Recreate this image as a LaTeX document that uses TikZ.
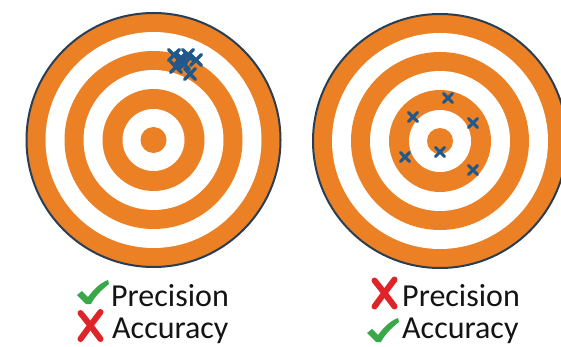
\documentclass[tikz,border=0pt]{standalone}
\usepackage{fontspec}
\setmainfont{Carlito}
\definecolor{tgtorange}{RGB}{235,128,36}
\definecolor{rimblue}{RGB}{40,62,85}
\definecolor{hitblue}{RGB}{32,88,140}
\definecolor{okgreen}{RGB}{58,168,72}
\definecolor{nored}{RGB}{222,36,40}
\tikzset{
  hit/.style={hitblue, line width=3pt, line cap=round},
  bighit/.style={hitblue, line width=3.5pt, line cap=round},
  lbl/.style={anchor=base west, inner sep=0pt, font=\fontsize{32}{32}\selectfont, text=black!92},
  pics/target/.style={code={
    \fill[tgtorange, draw=rimblue, line width=2pt] (0,0) circle (127pt);
    \fill[white] (0,0) circle (108pt);
    \fill[tgtorange] (0,0) circle (89pt);
    \fill[white] (0,0) circle (70pt);
    \fill[tgtorange] (0,0) circle (51pt);
    \fill[white] (0,0) circle (31pt);
    \fill[tgtorange] (0,0) circle (13pt);
  }},
  pics/okmark/.style={code={
    \fill[okgreen] (-11,-8) -- (-6,-12) -- (0,-6)
      .. controls (6,-14) and (12,-20) .. (20,-23) -- (21,-19)
      .. controls (12,-12) and (6,-5) .. (3,1) -- (-2,1) -- cycle;
  }},
  pics/nomark/.style={code={
    \draw[nored, line width=6pt, line cap=round] (-10,-13) .. controls (-2,-3) .. (10,13);
    \draw[nored, line width=6pt, line cap=round] (10,-14) .. controls (1,-2) .. (-10,13);
  }}
}
\newcommand\hitat[2]{\draw[hit] (#1,#2) +(-4.5,-4.5) -- +(4.5,4.5) (#1,#2) +(-4.5,4.5) -- +(4.5,-4.5);}
\newcommand\bighitat[2]{\draw[bighit] (#1,#2) +(-5.5,-5.5) -- +(5.5,5.5) (#1,#2) +(-5.5,5.5) -- +(5.5,-5.5);}
\begin{document}
\begin{tikzpicture}[x=1pt,y=-1pt]
\useasboundingbox (0,0) rectangle (561,347);
\fill[white] (0,0) rectangle (561,347);
% left target
\pic at (153.5,140) {target};
\foreach \px/\py in {174/55,188/55,196/60,184/64,176/67,190/74,181/58}
  {\bighitat{\px}{\py}}
% right target
\begin{scope}[shift={(440,141)}, xscale=0.94]
  \pic at (0,0) {target};
\end{scope}
\foreach \px/\py in {448/98,413/117,473/123,405/157,440/152,473/170}
  {\hitat{\px}{\py}}
% labels
\pic at (88,303) {okmark};
\pic at (90.5,326) {nomark};
\node[lbl] (lp) at (111,306) {Precision};
\node[lbl] (la) at (112,338) {Accuracy};
\pic at (384.5,293.5) {nomark};
\pic at (378,341) {okmark};
\node[lbl] (rp) at (402,306) {Precision};
\node[lbl] (ra) at (402,338) {Accuracy};
\end{tikzpicture}
\end{document}
